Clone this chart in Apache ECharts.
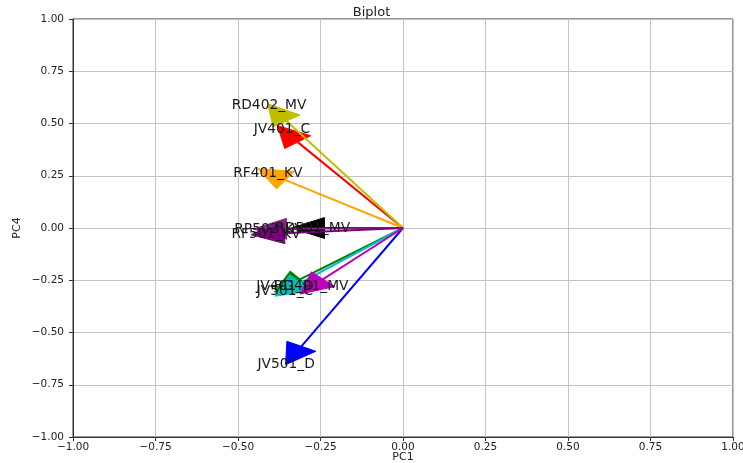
<!DOCTYPE html>
<html>
<head>
<meta charset="utf-8">
<script src="https://cdn.jsdelivr.net/npm/echarts@6/dist/echarts.min.js"></script>
<style>
html, body { margin: 0; padding: 0; background: #fff; }
#biplot { width: 743px; height: 463px; }
</style>
</head>
<body>
<div id="biplot"></div>
<script>
// loadings (PC1, PC4), one arrow each, in drawing order
var names = ['JV501_D', 'JV401_D', 'JV401_C', 'JV501_C', 'RD401_MV', 'RD402_MV', 'RD501_MV', 'RP502_KV', 'RF401_KV', 'RF501_KV'];
var pc1   = [-0.308, -0.311, -0.319, -0.311, -0.242, -0.353, -0.238, -0.353, -0.356, -0.361];
var pc4   = [-0.566, -0.245,  0.411, -0.262, -0.245,  0.512,  0.000, -0.004,  0.229, -0.025];
var colors = ['#0000ff', '#008000', '#ff0000', '#00bfbf', '#bf00bf', '#bfbf00', '#000000', '#7f2a7f', '#ffa500', '#800080'];

var headWidth = 0.1, headLength = 0.1, labelScale = 1.15;

var chart = echarts.init(document.getElementById('biplot'));

var fmt = function (v) {
	return (v < 0 ? '\u2212' : '') + Math.abs(v).toFixed(2);
};

var arrowData = [];
var labelData = [];
for (var i = 0; i < names.length; i++) {
	arrowData.push([pc1[i], pc4[i]]);
	labelData.push([pc1[i] * labelScale, pc4[i] * labelScale]);
}

var renderArrow = function (params, api) {
	var x = api.value(0), y = api.value(1);
	var len = Math.sqrt(x * x + y * y);
	var ux = x / len, uy = y / len;
	var px = -uy, py = ux;
	var o = api.coord([0, 0]);
	var e = api.coord([x, y]);
	var b1 = api.coord([x + px * headWidth / 2, y + py * headWidth / 2]);
	var b2 = api.coord([x - px * headWidth / 2, y - py * headWidth / 2]);
	var tip = api.coord([x + ux * headLength, y + uy * headLength]);
	var c = colors[params.dataIndex];
	return {
		type: 'group',
		children: [
			{type: 'line', shape: {x1: o[0], y1: o[1], x2: e[0], y2: e[1]}, style: {stroke: c, lineWidth: 2}},
			{type: 'polygon', shape: {points: [b1, tip, b2]}, style: {fill: c, stroke: c, lineWidth: 1}}
		]
	};
};

var renderLabel = function (params, api) {
	var p = api.coord([api.value(0), api.value(1)]);
	return {
		type: 'text',
		x: p[0], y: p[1],
		style: {
			text: names[params.dataIndex],
			align: 'center', verticalAlign: 'middle',
			fontFamily: 'DejaVu Sans', fontSize: 13.8, fill: '#1a1a1a'
		}
	};
};

var axisCommon = {
	type: 'value',
	min: -1, max: 1, interval: 0.25,
	nameMoveOverlap: false,
	axisLine: {show: true, onZero: false, lineStyle: {color: '#333', width: 1}},
	axisTick: {show: true, length: 4, lineStyle: {color: '#333'}},
	splitLine: {show: true, lineStyle: {color: '#c4c4c4', width: 1}},
	nameTextStyle: {fontFamily: 'DejaVu Sans', fontSize: 11, color: '#222'}
};

var option = {
	animation: false,
	title: {
		text: 'Biplot',
		left: 'center', top: 1,
		textStyle: {fontFamily: 'DejaVu Sans', fontSize: 13, fontWeight: 'normal', color: '#222'}
	},
	grid: {
		left: 73, right: 10, top: 19, bottom: 26,
		containLabel: false, outerBoundsMode: 'none',
		show: true, borderColor: '#333', borderWidth: 1, backgroundColor: 'transparent'
	},
	xAxis: echarts.util.merge({
		name: 'PC1', nameLocation: 'middle', nameGap: 15,
		axisLabel: {formatter: fmt, margin: 5, fontFamily: 'DejaVu Sans', fontSize: 10.5, color: '#222'}
	}, axisCommon),
	yAxis: echarts.util.merge({
		name: 'PC4', nameLocation: 'middle', nameGap: 50,
		axisLabel: {formatter: fmt, margin: 9, fontFamily: 'DejaVu Sans', fontSize: 10.5, color: '#222'}
	}, axisCommon),
	series: [
		{type: 'custom', coordinateSystem: 'cartesian2d', renderItem: renderArrow, data: arrowData, z: 2, clip: false},
		{type: 'custom', coordinateSystem: 'cartesian2d', renderItem: renderLabel, data: labelData, z: 3, clip: false}
	]
};

chart.setOption(option);
</script>
</body>
</html>
